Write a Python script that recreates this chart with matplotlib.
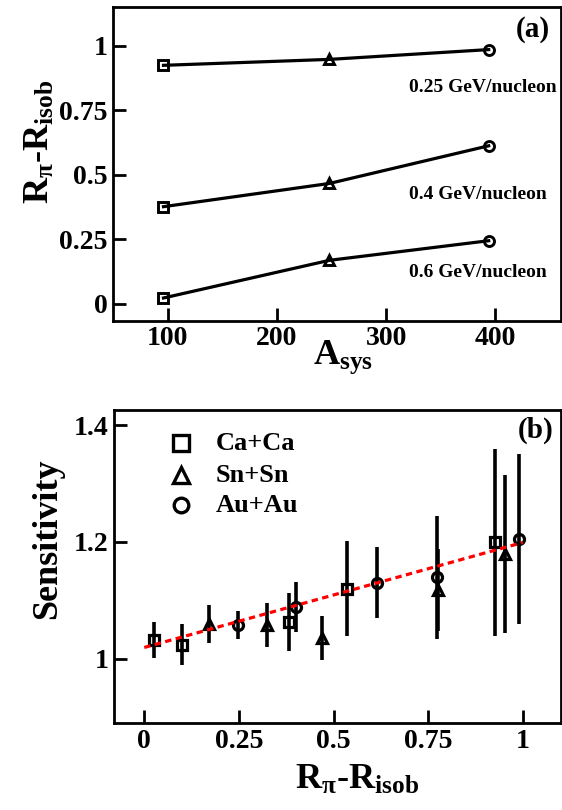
import matplotlib
matplotlib.use("Agg")
import matplotlib.pyplot as plt
import numpy as np

plt.rcParams['font.family'] = ['Liberation Serif', 'DejaVu Serif']
plt.rcParams['font.weight'] = 'bold'
plt.rcParams['mathtext.fontset'] = 'custom'
plt.rcParams['mathtext.rm'] = 'Liberation Serif:bold'
plt.rcParams['mathtext.it'] = 'Liberation Serif:bold'
plt.rcParams['mathtext.bf'] = 'Liberation Serif:bold'

# ---- panel (a): R_pi - R_isob versus system mass ----
systems = ['Ca+Ca', 'Sn+Sn', 'Au+Au']
markers = ['s', '^', 'o']
a_sys = [96, 248, 394]
energy_labels = ['0.25 GeV/nucleon', '0.4 GeV/nucleon', '0.6 GeV/nucleon']
r_diff_025 = [0.925, 0.948, 0.986]
r_diff_04 = [0.377, 0.467, 0.613]
r_diff_06 = [0.023, 0.169, 0.245]
a_xticks = [100, 200, 300, 400]
a_yticks = [0, 0.25, 0.5, 0.75, 1]
a_yticklabels = ['0', '0.25', '0.5', '0.75', '1']

# ---- panel (b): sensitivity versus R_pi - R_isob ----
ca_x = [0.026, 0.099, 0.382, 0.536, 0.927]
ca_y = [1.032, 1.024, 1.063, 1.120, 1.199]
ca_err = [0.031, 0.035, 0.050, 0.082, 0.160]
sn_x = [0.171, 0.323, 0.470, 0.776, 0.954]
sn_y = [1.059, 1.058, 1.035, 1.117, 1.179]
sn_err = [0.033, 0.038, 0.038, 0.070, 0.135]
au_x = [0.247, 0.400, 0.615, 0.773, 0.990]
au_y = [1.058, 1.089, 1.130, 1.139, 1.205]
au_err = [0.024, 0.043, 0.061, 0.105, 0.145]
fit_intercept = 1.019
fit_slope = 0.18
fit_range = [0.0, 1.0]
b_xticks = [0, 0.25, 0.5, 0.75, 1]
b_xticklabels = ['0', '0.25', '0.5', '0.75', '1']
b_yticks = [1.0, 1.2, 1.4]
b_yticklabels = ['1', '1.2', '1.4']

fig = plt.figure(figsize=(5.62, 8.10), dpi=100)
ax1 = fig.add_axes([0.2016, 0.6041, 0.7961, 0.3869])
ax2 = fig.add_axes([0.2028, 0.1070, 0.7949, 0.3868])


def style_axes(ax):
    for sp in ax.spines.values():
        sp.set_linewidth(2.0)
    ax.tick_params(direction='in', length=9.5, width=2.0, labelsize=20,
                   top=False, right=False, pad=4)
    for lab in ax.get_xticklabels() + ax.get_yticklabels():
        lab.set_fontweight('bold')


# panel (a)
for vals in (r_diff_025, r_diff_04, r_diff_06):
    ax1.plot(a_sys, vals, color='k', lw=2.3, zorder=2)
    for xi, yi, mk in zip(a_sys, vals, markers):
        ax1.plot([xi], [yi], marker=mk, ms=7.2, mfc='none', mec='k', mew=2.1,
                 ls='none', zorder=3)

label_y = [0.839, 0.423, 0.123]
for txt, ly in zip(energy_labels, label_y):
    ax1.text(321, ly, txt, fontsize=14, fontweight='bold', ha='left', va='center')

ax1.text(0.976, 0.928, '(a)', transform=ax1.transAxes, fontsize=21,
         fontweight='bold', ha='right', va='center')

ax1.set_xlim(50, 460)
ax1.set_ylim(-0.065, 1.15)
ax1.set_xticks(a_xticks)
ax1.set_xticklabels([str(t) for t in a_xticks])
ax1.set_yticks(a_yticks)
ax1.set_yticklabels(a_yticklabels)
style_axes(ax1)
ax1.set_xlabel(r'A$_{sys}$', fontsize=26, fontweight='bold')
ax1.xaxis.set_label_coords(0.513, -0.058)
ax1.set_ylabel(r'R$_{\pi}$-R$_{isob}$', fontsize=26, fontweight='bold')
ax1.yaxis.set_label_coords(-0.125, 0.57)

# panel (b)
for xs, ys, es, mk, ms in ((ca_x, ca_y, ca_err, 's', 6.8),
                           (sn_x, sn_y, sn_err, '^', 7.4),
                           (au_x, au_y, au_err, 'o', 7.2)):
    ax2.errorbar(xs, ys, yerr=es, fmt=mk, ms=ms, mfc='none', mec='k', mew=2.3,
                 ecolor='k', elinewidth=2.6, capsize=0, zorder=3)

fx = np.array(fit_range)
ax2.plot(fx, fit_intercept + fit_slope * fx, color='#ff0000', lw=2.3,
         ls=(0, (2.0, 1.4)), zorder=4)

# legend drawn in axes coordinates
leg_y = [0.894, 0.7925, 0.6967]
leg_ms = [11.0, 11.5, 10.5]
for name, mk, ly, lms in zip(systems, markers, leg_y, leg_ms):
    ax2.plot([0.149], [ly], marker=mk, ms=lms, mfc='none', mec='k', mew=2.4,
             ls='none', transform=ax2.transAxes, clip_on=False)
    ax2.text(0.228, ly, name, transform=ax2.transAxes, fontsize=19,
             fontweight='bold', ha='left', va='center')

ax2.text(0.983, 0.934, '(b)', transform=ax2.transAxes, fontsize=21,
         fontweight='bold', ha='right', va='center')

ax2.set_xlim(-0.08, 1.1)
ax2.set_ylim(0.889, 1.426)
ax2.set_xticks(b_xticks)
ax2.set_xticklabels(b_xticklabels)
ax2.set_yticks(b_yticks)
ax2.set_yticklabels(b_yticklabels)
style_axes(ax2)
ax2.set_xlabel(r'R$_{\pi}$-R$_{isob}$', fontsize=26, fontweight='bold')
ax2.xaxis.set_label_coords(0.544, -0.128)
ax2.set_ylabel('Sensitivity', fontsize=26, fontweight='bold')
ax2.yaxis.set_label_coords(-0.111, 0.59)

fig.savefig('out.png', dpi=100)
